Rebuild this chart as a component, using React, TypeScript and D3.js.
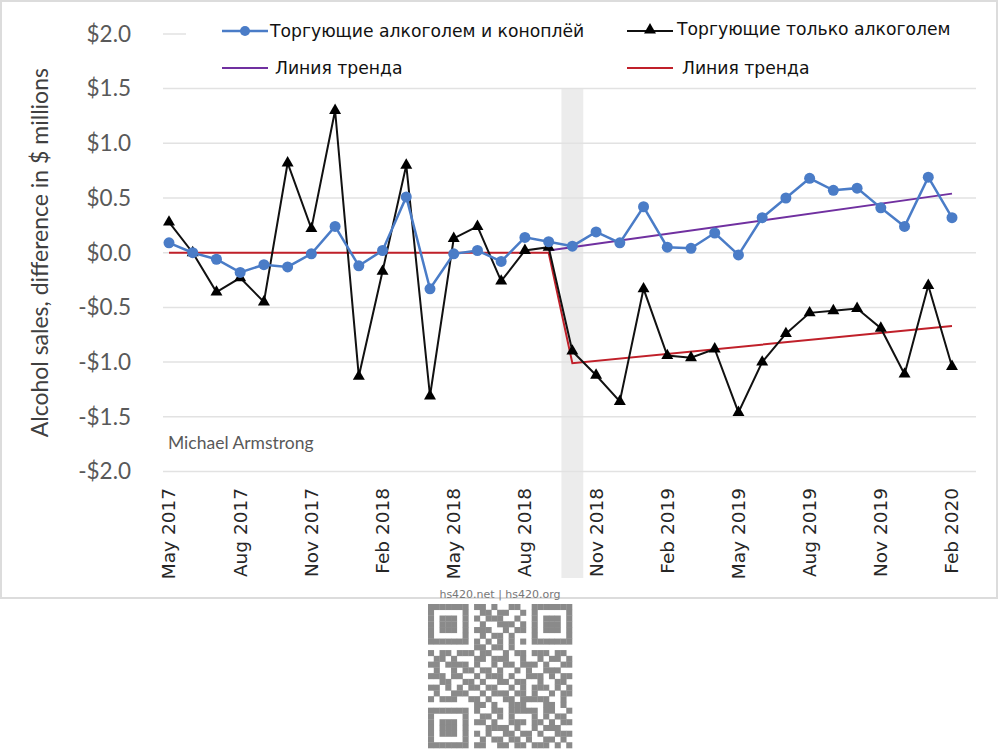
import React from "react";
import * as d3 from "d3";

// monthly series, May 2017 .. Feb 2020
const months = d3.timeMonth.range(new Date(2017, 4, 1), new Date(2020, 2, 1));
const monthLabel = d3.timeFormat("%b %Y");

const alcoholAndCannabis = [
  0.09, 0.0, -0.06, -0.18, -0.11, -0.13, -0.01, 0.24, -0.12, 0.02, 0.51, -0.33,
  -0.01, 0.02, -0.08, 0.14, 0.1, 0.06, 0.19, 0.09, 0.42, 0.05, 0.04, 0.18,
  -0.02, 0.32, 0.5, 0.68, 0.57, 0.59, 0.41, 0.24, 0.69, 0.32,
];
const alcoholOnly = [
  0.28, 0.0, -0.36, -0.23, -0.45, 0.82, 0.22, 1.3, -1.13, -0.17, 0.8, -1.31,
  0.13, 0.24, -0.26, 0.02, 0.05, -0.9, -1.12, -1.36, -0.33, -0.94, -0.96, -0.88,
  -1.46, -1.0, -0.74, -0.55, -0.53, -0.51, -0.69, -1.11, -0.3, -1.04,
];

// trend lines as [month index, value] knots
const trendAlcoholOnly: [number, number][] = [[0, 0.0], [16, 0.0], [17, -1.01], [33, -0.67]];
const trendCannabis: [number, number][] = [[16, 0.02], [33, 0.54]];

const legalisationIndex = 17; // Oct 2018
const yTicks = [2, 1.5, 1, 0.5, 0, -0.5, -1, -1.5, -2];
const tickEvery = 3;

const legendSeries = ["Торгующие алкоголем и коноплёй", "Торгующие только алкоголем"];
const legendTrend = "Линия тренда";

// watermark code, one string per row
const qrRows = [
  "1111111011010011001111111",
  "1000001001101100101000001",
  "1011101010111001001011101",
  "1011101001001110101011101",
  "1011101011100101101011101",
  "1000001001011010001000001",
  "1111111010101010101111111",
  "0000000011011010000000000",
  "1011011101100101101110110",
  "0110100011011100100101101",
  "1101111010010110111010011",
  "0100101101101001010011100",
  "1110110010111010011101011",
  "0011001101001101100100110",
  "1101010110110010101110101",
  "0100111001011101101001011",
  "1011100110100110111110010",
  "0000000011010011100011010",
  "1111111010011011111011001",
  "1000001001101010001010110",
  "1011101011010011101101011",
  "1011101000111101001011100",
  "1011101010100110110100111",
  "1000001001011011010011010",
  "1111111011001101101110101",
];

const W = 1000;
const H = 750;
const tickFont = "Lato, 'Open Sans', sans-serif";
const legendFont = "'DejaVu Sans', sans-serif";

export default function App() {
  const labels = months.map(monthLabel);
  const x = d3.scalePoint<string>().domain(labels).range([169, 952]);
  const y = d3.scaleLinear().domain([-2, 2]).range([471.5, 33.9]);
  const xi = (i: number) => x(labels[i]) as number;

  const line = d3
    .line<number>()
    .x((_, i) => xi(i))
    .y((d) => y(d));
  const trendLine = d3
    .line<[number, number]>()
    .x((d) => xi(d[0]))
    .y((d) => y(d[1]));
  const triangle = d3.symbol(d3.symbolTriangle, 62)() as string;

  const fmt = (v: number) => (v < 0 ? "-$" : "$") + Math.abs(v).toFixed(1);
  const band = x.step() * 0.92;

  const qrModule = 5.76;
  const qrX = 428;
  const qrY = 604;

  return (
    <svg
      width={W}
      height={H}
      style={{ position: "absolute", left: 0, top: 0, background: "#fff" }}
    >
      <rect x={1} y={1} width={996} height={597} fill="#fff" stroke="#dcdcdc" strokeWidth={2} />

      {/* shaded legalisation month */}
      <rect
        x={xi(legalisationIndex) - band / 2}
        y={y(1.5)}
        width={band}
        height={578 - y(1.5)}
        fill="#ececec"
      />

      {/* gridlines */}
      {yTicks.map((t) => (
        <line key={t} x1={163} x2={976} y1={y(t)} y2={y(t)} stroke="#e2e2e2" strokeWidth={1.5} />
      ))}

      {/* y tick labels */}
      {yTicks.map((t) => (
        <text
          key={t}
          x={131}
          y={y(t)}
          dy="0.35em"
          textAnchor="end"
          fontFamily={tickFont}
          fontSize={22.5}
          fill="#595959"
        >
          {fmt(t)}
        </text>
      ))}

      <text
        transform={`translate(48,${y(0)}) rotate(-90)`}
        textAnchor="middle"
        fontFamily={tickFont}
        fontSize={23}
        fill="#404040"
      >
        Alcohol sales, difference in $ millions
      </text>

      {/* x tick labels */}
      {labels.map((l, i) =>
        i % tickEvery === 0 ? (
          <text
            key={l}
            transform={`translate(${xi(i)},488) rotate(-90)`}
            dy="0.35em"
            textAnchor="end"
            fontFamily={legendFont}
            fontSize={18.5}
            fill="#262626"
          >
            {l}
          </text>
        ) : null
      )}

      <text x={168} y={449} fontFamily={tickFont} fontSize={17.5} fill="#595959">
        Michael Armstrong
      </text>

      {/* trend lines */}
      <path d={trendLine(trendAlcoholOnly) as string} fill="none" stroke="#c0202a" strokeWidth={2} />
      <path d={trendLine(trendCannabis) as string} fill="none" stroke="#7030a0" strokeWidth={2} />

      {/* alcohol-only stores */}
      <path d={line(alcoholOnly) as string} fill="none" stroke="#111" strokeWidth={2} />
      {alcoholOnly.map((v, i) => (
        <path key={i} d={triangle} transform={`translate(${xi(i)},${y(v)})`} fill="#000" />
      ))}

      {/* alcohol + cannabis stores */}
      <path d={line(alcoholAndCannabis) as string} fill="none" stroke="#4a7cc7" strokeWidth={2.5} />
      {alcoholAndCannabis.map((v, i) => (
        <circle key={i} cx={xi(i)} cy={y(v)} r={5.5} fill="#4a7cc7" />
      ))}

      {/* legend */}
      <g>
        <rect x={186} y={10} width={790} height={74} fill="#fff" />
        <line x1={222} x2={268} y1={31} y2={31} stroke="#4a7cc7" strokeWidth={2.5} />
        <circle cx={245} cy={31} r={5} fill="#4a7cc7" />
        <text x={270} y={37} fontFamily={legendFont} fontSize={17.2} fill="#111">
          {legendSeries[0]}
        </text>
        <line x1={627} x2={673} y1={31} y2={31} stroke="#111" strokeWidth={2} />
        <path d={triangle} transform="translate(650,30)" fill="#000" />
        <text x={677} y={35} fontFamily={legendFont} fontSize={17.2} fill="#111">
          {legendSeries[1]}
        </text>
        <line x1={222} x2={268} y1={68} y2={68} stroke="#7030a0" strokeWidth={2} />
        <text x={275} y={74} fontFamily={legendFont} fontSize={17.2} fill="#111">
          {legendTrend}
        </text>
        <line x1={627} x2={673} y1={68} y2={68} stroke="#c0202a" strokeWidth={2} />
        <text x={682} y={74} fontFamily={legendFont} fontSize={17.2} fill="#111">
          {legendTrend}
        </text>
      </g>

      {/* watermark */}
      <text x={500} y={598} textAnchor="middle" fontFamily={legendFont} fontSize={11} fill="#777">
        hs420.net | hs420.org
      </text>
      <g fill="#8a8a8a">
        {qrRows.map((row, r) =>
          row.split("").map((c, k) =>
            c === "1" ? (
              <rect
                key={`${r}-${k}`}
                x={qrX + k * qrModule}
                y={qrY + r * qrModule}
                width={qrModule + 0.3}
                height={qrModule + 0.3}
              />
            ) : null
          )
        )}
      </g>
    </svg>
  );
}
